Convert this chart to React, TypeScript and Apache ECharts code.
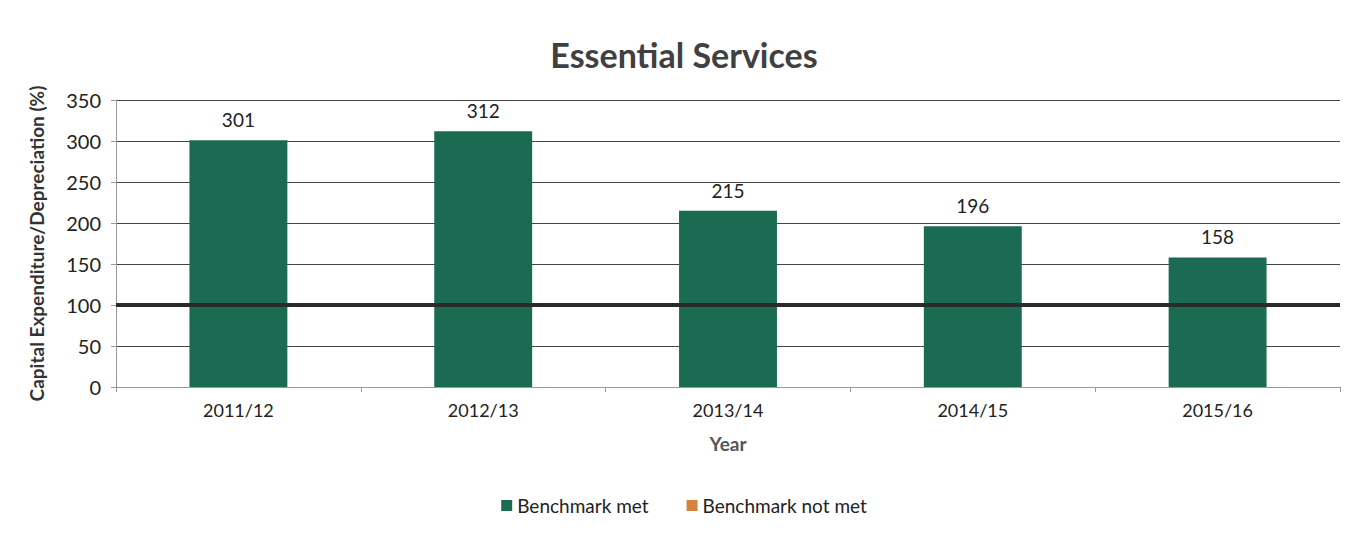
import React, { useEffect, useRef } from "react";
import * as echarts from "echarts";

const categories = ["2011/12", "2012/13", "2013/14", "2014/15", "2015/16"];
const benchmarkMet = [301, 312, 215, 196, 158];
const benchmarkNotMet: number[] = [];
const benchmarkLevel = 100;

export default function App() {
  const ref = useRef<HTMLDivElement>(null);
  useEffect(() => {
    document.body.style.margin = "0";
    const chart = echarts.init(ref.current!, null, { renderer: "svg" });
    const font = "Lato, 'Open Sans', sans-serif";
    chart.setOption({
      animation: false,
      backgroundColor: "#ffffff",
      textStyle: { fontFamily: font },
      title: {
        text: "Essential Services",
        left: "center",
        top: 32,
        textStyle: { fontSize: 34, fontWeight: "bold", color: "#404040", fontFamily: font },
      },
      legend: {
        bottom: 14,
        left: "center",
        itemWidth: 11,
        itemHeight: 11,
        itemGap: 38,
        icon: "rect",
        textStyle: { fontSize: 19, color: "#222", fontFamily: font },
        data: ["Benchmark met", "Benchmark not met"],
      },
      grid: { left: 116, right: 28, top: 100, bottom: 147 },
      xAxis: {
        type: "category",
        data: categories,
        name: "Year",
        nameLocation: "middle",
        nameGap: 47,
        nameTextStyle: { fontSize: 19, fontWeight: "bold", color: "#555", fontFamily: font },
        axisLine: { lineStyle: { color: "#999", width: 1 } },
        axisTick: { show: true, alignWithLabel: false, length: 5, lineStyle: { color: "#999" } },
        axisLabel: { fontSize: 18, color: "#222", margin: 14, fontFamily: font },
      },
      yAxis: {
        type: "value",
        min: 0,
        max: 350,
        interval: 50,
        name: "Capital Expenditure/Depreciation (%)",
        nameLocation: "middle",
        nameGap: 70,
        nameTextStyle: { fontSize: 19, fontWeight: "bold", color: "#333", fontFamily: font },
        axisLine: { show: true, lineStyle: { color: "#999" } },
        axisTick: { show: true, length: 5, lineStyle: { color: "#999" } },
        axisLabel: { fontSize: 20, color: "#222", margin: 15, fontFamily: font },
        splitLine: { lineStyle: { color: "#444", width: 1.2 } },
      },
      series: [
        {
          name: "Benchmark met",
          type: "bar",
          data: benchmarkMet,
          barWidth: "40%",
          barGap: "-100%",
          itemStyle: { color: "#1b6b52" },
          label: {
            show: true,
            position: "top",
            distance: 11,
            fontSize: 19,
            color: "#222",
            fontFamily: font,
          },
          markLine: {
            silent: true,
            symbol: ["none", "none"],
            label: { show: false },
            lineStyle: { color: "#2a2a2a", width: 4, type: "solid" },
            data: [{ yAxis: benchmarkLevel }],
            z: 10,
          },
          z: 2,
        },
        {
          name: "Benchmark not met",
          type: "bar",
          data: benchmarkNotMet,
          barWidth: "40%",
          itemStyle: { color: "#d4843f" },
        },
      ],
      color: ["#1f7a62", "#d4843f"],
    });
    return () => chart.dispose();
  }, []);
  return <div ref={ref} style={{ width: 1368, height: 534 }} />;
}
